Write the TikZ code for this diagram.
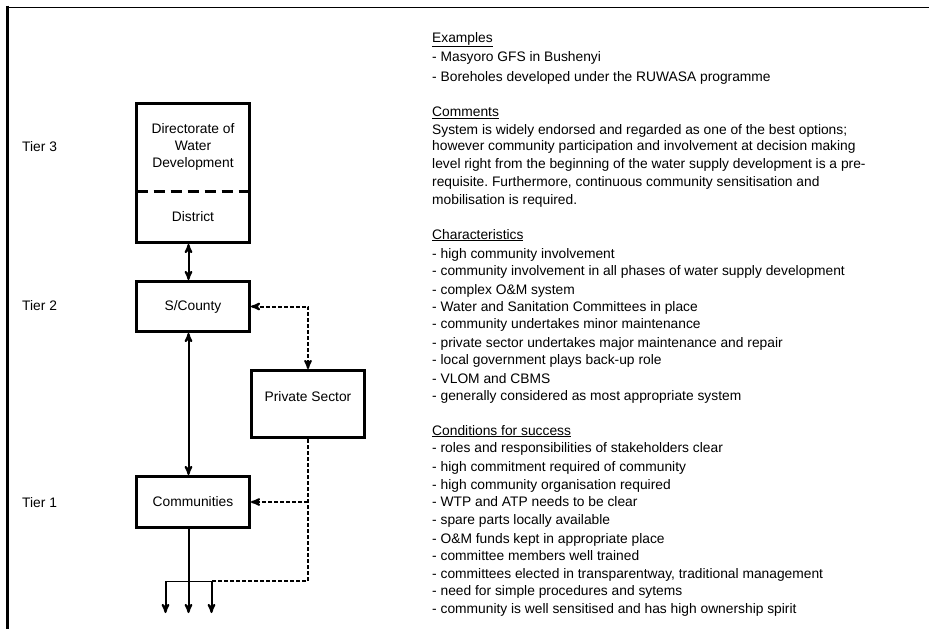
\documentclass[tikz,border=0pt]{standalone}
\usepackage{fontspec}
\setmainfont{Liberation Sans}
\usetikzlibrary{arrows, positioning}
\frenchspacing

\begin{document}
\begin{tikzpicture}[x=1pt,y=1pt,>=stealth',
 box/.style={rectangle,draw,line width=3pt,minimum width=113pt,align=center,
  font=\fontsize{13.8}{17}\selectfont},
 link/.style={line width=2pt},
 dlink/.style={line width=2pt,dash pattern=on 4pt off 2pt},
 txt/.style={anchor=base west,inner sep=0pt,font=\fontsize{13.8}{17}\selectfont}]
  \useasboundingbox (0,0) rectangle (929,-629);
  \draw[line width=1pt] (6,-7) -- (929,-7);
  \draw[line width=3pt] (7.5,-5.5) -- (7.5,-629);

  \node[box, draw=none, outer sep=0pt, minimum height=87.5pt] (dwd) at (193,-147.25) {Directorate of\\Water\\Development};
  \node[box, draw=none, outer sep=0pt, minimum height=51.5pt] (dst) [below=0pt of dwd] {District};
  \draw[line width=3pt] (dwd.north west) rectangle (dst.south east);
  \draw[line width=3pt, dash pattern=on 11pt off 6pt] (dwd.south west) -- (dwd.south east);

  \node[box, minimum height=50pt] (sc) [below=37.5pt of dst] {S/County};
  \node[box, minimum height=51pt] (comm) [below=142pt of sc] {Communities};
  \node[box, minimum height=67pt, text height=10pt, text depth=16pt] (priv) at (308,-404) {Private Sector};

  \node[txt] (tier3) at (22,-151.5) {Tier 3};
  \node[txt] (tier2) at (22,-310) {Tier 2};
  \node[txt] (tier1) at (22,-507) {Tier 1};

  \coordinate (spl) at (211.5,-581);
  \coordinate (o1) at (165.5,-613);
  \coordinate (o2) at (188.5,-613);
  \coordinate (o3) at (211.5,-613);

  \draw[link,<->] ([xshift=-4.5pt,yshift=-1.5pt]dst.south) -- ([xshift=-4.5pt]sc.north);
  \draw[link,<->] ([xshift=-4.5pt]sc.south) -- ([xshift=-4.5pt]comm.north);
  \draw[dlink,<->] (sc.east) -| (priv.north);
  \draw[dlink] (priv.south) |- (spl);
  \draw[dlink,->] (priv.south |- comm.east) -- (comm.east);
  \draw[line width=1pt] (o1 |- spl) -- (spl);
  \draw[link,->] ([xshift=-4.5pt]comm.south) -- (o2);
  \foreach \o in {o1,o3} {
   \draw[link,->] (\o |- spl) -- (\o);}

  \foreach \y/\t [count=\i] in {
   37.3/{\underline{Examples}},
   56.7/{- Masyoro GFS in Bushenyi},
   76.7/{- Boreholes developed under the RUWASA programme},
   111.7/{\underline{Comments}},
   129.3/{System is widely endorsed and regarded as one of the best options;},
   145.7/{however community participation and involvement at decision making},
   163.3/{level right from the beginning of the water supply development is a pre-},
   181/{requisite. Furthermore, continuous community sensitisation and},
   199.3/{mobilisation is required.},
   234/{\underline{Characteristics}},
   253.3/{- high community involvement},
   270.7/{- community involvement in all phases of water supply development},
   289.3/{- complex O\&M system},
   306/{- Water and Sanitation Committees in place},
   323.3/{- community undertakes minor maintenance},
   342/{- private sector undertakes major maintenance and repair},
   359.3/{- local government plays back-up role},
   378/{- VLOM and CBMS},
   395.7/{- generally considered as most appropriate system},
   430/{\underline{Conditions for success}},
   447.5/{- roles and responsibilities of stakeholders clear},
   466.7/{- high commitment required of community},
   484.3/{- high community organisation required},
   501.7/{- WTP and ATP needs to be clear},
   519.3/{- spare parts locally available},
   538.3/{- O\&M funds kept in appropriate place},
   555.7/{- committee members well trained},
   573.3/{- committees elected in transparentway, traditional management},
   590.7/{- need for simple procedures and sytems},
   608.3/{- community is well sensitised and has high ownership spirit}} {
   \node[txt] (line\i) at (432,{-(\y+5)}) {\t};}
\end{tikzpicture}
\end{document}
